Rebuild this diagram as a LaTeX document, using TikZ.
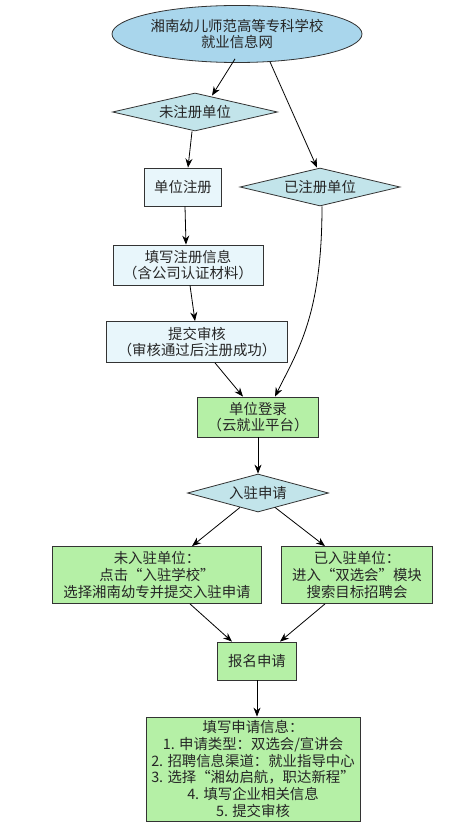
\documentclass[tikz,border=0pt]{standalone}
\usepackage{fontspec}
\setmainfont{Noto Sans CJK SC}
\usetikzlibrary{shapes.geometric,arrows.meta}
\definecolor{ellfill}{HTML}{A9D6EC}
\definecolor{diafill}{HTML}{C2E4EA}
\definecolor{boxfill}{HTML}{E8F6FB}
\definecolor{grnfill}{HTML}{B5F0A6}
\definecolor{edgecol}{HTML}{333333}
\tikzset{
  base/.style={draw=edgecol, line width=0.8pt, align=center, inner sep=0pt,
    font=\fontsize{14.4}{16.8}\selectfont, text=black!85},
  ellnode/.style={base, ellipse, fill=ellfill, minimum width=250pt, minimum height=57pt},
  dianode/.style={base, diamond, aspect=4, fill=diafill},
  lightbox/.style={base, rectangle, fill=boxfill},
  greenbox/.style={base, rectangle, fill=grnfill},
  arr/.style={draw=black, line width=0.8pt, -{Stealth[length=9pt,width=7pt]}}
}
\begin{document}
\begin{tikzpicture}[x=1pt,y=-1pt]
\useasboundingbox[fill=white] (0,0) rectangle (474,829);
\node[ellnode] (ell) at (237,34) {湘南幼儿师范高等专科学校\\就业信息网};
\node[dianode, minimum width=165pt, minimum height=38pt] (d1) at (195,112) {未注册单位};
\node[lightbox, minimum width=77pt, minimum height=38pt] (b1) at (183,187) {单位注册};
\node[dianode, minimum width=160pt, minimum height=38pt] (d2) at (320,187) {已注册单位};
\node[lightbox, minimum width=150pt, minimum height=40pt] (b2) at (188,265) {填写注册信息\\（含公司认证材料）};
\node[lightbox, minimum width=181pt, minimum height=41pt] (b3) at (197,342) {提交审核\\（审核通过后注册成功）};
\node[greenbox, minimum width=121pt, minimum height=40pt] (login) at (258,417) {单位登录\\（云就业平台）};
\node[dianode, minimum width=141pt, minimum height=38pt] (d3) at (258,493) {入驻申请};
\node[greenbox, minimum width=209pt, minimum height=57pt] (b4) at (157,575) {未入驻单位：\\点击“入驻学校”\\选择湘南幼专并提交入驻申请};
\node[greenbox, minimum width=151pt, minimum height=57pt] (b5) at (357,575) {已入驻单位：\\进入“双选会”模块\\搜索目标招聘会};
\node[greenbox, minimum width=79pt, minimum height=38pt] (apply) at (257,661) {报名申请};
\node[greenbox, minimum width=214pt, minimum height=104pt] (fin) at (253,769) {填写申请信息：\\1. 申请类型：双选会/宣讲会\\2. 招聘信息渠道：就业指导中心\\3. 选择“湘幼启航，职达新程”\\4. 填写企业相关信息\\5. 提交审核};

\draw[arr] ([xshift=-2pt,yshift=4pt]ell.south) -- ([xshift=17pt,yshift=-3pt]d1.north);
\draw[arr] ([xshift=33pt,yshift=1pt]ell.south) -- ([xshift=-3pt]d2.north);
\draw[arr] ([xshift=-3pt]d1.south) -- ([xshift=5pt]b1.north);
\draw[arr] ([xshift=2pt]b1.south) -- ([xshift=-2pt]b2.north);
\draw[arr] ([xshift=2pt]b2.south) -- ([xshift=-2pt]b3.north);
\draw[arr] ([xshift=18pt]b3.south) -- ([xshift=-15pt]login.north);
\draw[arr] ([xshift=2pt]d2.south) .. controls +(0,110) and +(22,-45) .. ([xshift=17pt]login.north);
\draw[arr] (login.south) -- (d3.north);
\draw[arr] ([xshift=-18pt,yshift=5pt]d3.south) -- ([xshift=35pt]b4.north);
\draw[arr] ([xshift=17pt,yshift=5pt]d3.south) -- ([xshift=-32pt]b5.north);
\draw[arr] ([xshift=33pt]b4.south) -- ([xshift=-25pt]apply.north);
\draw[arr] ([xshift=-32pt]b5.south) -- ([xshift=23pt]apply.north);
\draw[arr] (apply.south) -- (apply.south |- fin.north);
\end{tikzpicture}
\end{document}
